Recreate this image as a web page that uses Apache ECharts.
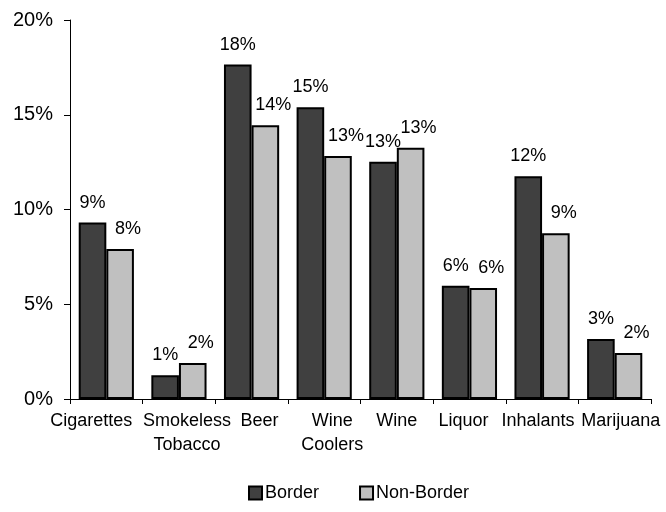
<!DOCTYPE html>
<html>
<head>
<meta charset="utf-8">
<script src="https://cdn.jsdelivr.net/npm/echarts@6/dist/echarts.min.js"></script>
<style>
html,body{margin:0;padding:0;background:#fff;}
#chart{width:666px;height:512px;}
</style>
</head>
<body>
<div id="chart"></div>
<script>
var categories = ['Cigarettes', 'Smokeless\nTobacco', 'Beer', 'Wine\nCoolers', 'Wine', 'Liquor', 'Inhalants', 'Marijuana'];
var borderValues = [9.31, 1.25, 17.65, 15.4, 12.52, 5.98, 11.76, 3.17];
var nonBorderValues = [7.92, 1.9, 14.44, 12.82, 13.26, 5.86, 8.75, 2.43];
var seriesNames = ['Border', 'Non-Border'];
var yTicks = [0, 5, 10, 15, 20];

// label horizontal nudges (style only), matching the reference layout
var labelShift = [-15, 8, 8, 8, 0, -6, -4, 6];

var FONT = 'Liberation Sans, Arial, sans-serif';
var chart = echarts.init(document.getElementById('chart'));

var catData = categories.map(function (c, i) {
  var s = labelShift[i];
  return { value: c, textStyle: { padding: s < 0 ? [0, -2 * s, 0, 0] : [0, 0, 0, 2 * s] } };
});

function labelOpt(dx) {
  return {
    show: true, position: 'top', distance: 11, offset: [dx, 0],
    color: '#000', fontFamily: FONT, fontSize: 18,
    formatter: function (p) { return Math.round(p.value) + '%'; }
  };
}

chart.setOption({
  animation: false,
  backgroundColor: '#fff',
  grid: { left: 70, right: 15, top: 20, bottom: 113, containLabel: false },
  legend: {
    data: seriesNames,
    left: 243, top: 479,
    itemWidth: 13, itemHeight: 13, itemGap: 40,
    textStyle: { fontFamily: FONT, fontSize: 18, color: '#000', padding: [0, 0, 0, -2] },
    icon: 'rect'
  },
  xAxis: {
    type: 'category',
    data: catData,
    axisLine: { lineStyle: { color: '#000', width: 1 } },
    axisTick: { show: true, length: 5, lineStyle: { color: '#000' } },
    axisLabel: { interval: 0, color: '#000', fontFamily: FONT, fontSize: 18, lineHeight: 24, margin: 10 }
  },
  yAxis: {
    type: 'value',
    min: yTicks[0], max: yTicks[yTicks.length - 1], interval: 5,
    axisLine: { show: true, lineStyle: { color: '#000', width: 1 } },
    axisTick: { show: true, length: 6, lineStyle: { color: '#000' } },
    splitLine: { show: false },
    axisLabel: { color: '#000', fontFamily: FONT, fontSize: 20, margin: 17, formatter: '{value}%' }
  },
  series: [
    {
      name: seriesNames[0], type: 'bar', data: borderValues,
      barGap: '0%', barCategoryGap: '24%',
      itemStyle: { color: '#404040', borderColor: '#000', borderWidth: 2 },
      label: labelOpt(0)
    },
    {
      name: seriesNames[1], type: 'bar', data: nonBorderValues,
      barGap: '0%', barCategoryGap: '24%',
      itemStyle: { color: '#c0c0c0', borderColor: '#000', borderWidth: 2 },
      label: labelOpt(8)
    }
  ]
});
</script>
</body>
</html>
